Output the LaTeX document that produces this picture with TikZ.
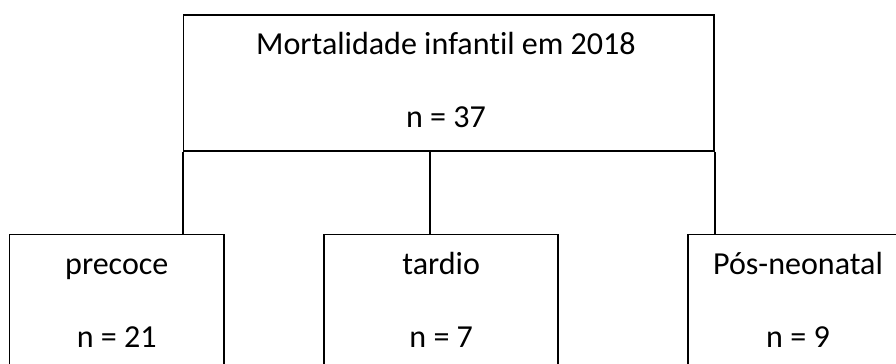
\documentclass[tikz,border=0pt]{standalone}
\usepackage{fontspec}
\setmainfont{Carlito}[Ligatures={NoCommon}]
\begin{document}
\begin{tikzpicture}[
        box/.style={draw, line width=1.1pt, rectangle, anchor=north, inner sep=0pt},
        txt/.style={anchor=base, inner sep=0pt, font=\fontsize{22.8}{27}\selectfont}
    ]
        \useasboundingbox (0,0) rectangle (22.4,9.1);
        \clip (0,0) rectangle (22.4,9.1);
        \node[box, minimum width=13.26cm, minimum height=3.41cm] (top) at (11.22,8.75){};
        \node[box, minimum width=5.37cm, minimum height=4.4cm] (pre) at (2.92,3.26){};
        \node[box, minimum width=5.85cm, minimum height=4.4cm] (tar) at (11.03,3.26){};
        \node[box, minimum width=5.5cm, minimum height=4.4cm] (pos) at (19.95,3.26){};
        \draw[line width=1.1pt] (top.south west) -- (top.south west |- pre.north);
        \draw[line width=1.1pt] ([xshift=-0.47cm]top.south) -- ([xshift=-0.47cm]top.south |- tar.north);
        \draw[line width=1.1pt] (top.south east) -- (top.south east |- pos.north);
        \node[txt] (topA) at ([xshift=-0.07cm, yshift=-1.025cm]top.north){Mortalidade infantil em 2018};
        \node[txt] (topB) at ([xshift=-0.07cm, yshift=-2.85cm]top.north){n = 37};
        \node[txt] (preA) at ([yshift=-1.035cm]pre.north){precoce};
        \node[txt] (preB) at ([yshift=-2.86cm]pre.north){n = 21};
        \node[txt] (tarA) at ([yshift=-1.035cm]tar.north){tardio};
        \node[txt] (tarB) at ([yshift=-2.86cm]tar.north){n = 7};
        \node[txt] (posA) at ([yshift=-1.035cm]pos.north){Pós-neonatal};
        \node[txt] (posB) at ([yshift=-2.86cm]pos.north){n = 9};
    \end{tikzpicture}
\end{document}
